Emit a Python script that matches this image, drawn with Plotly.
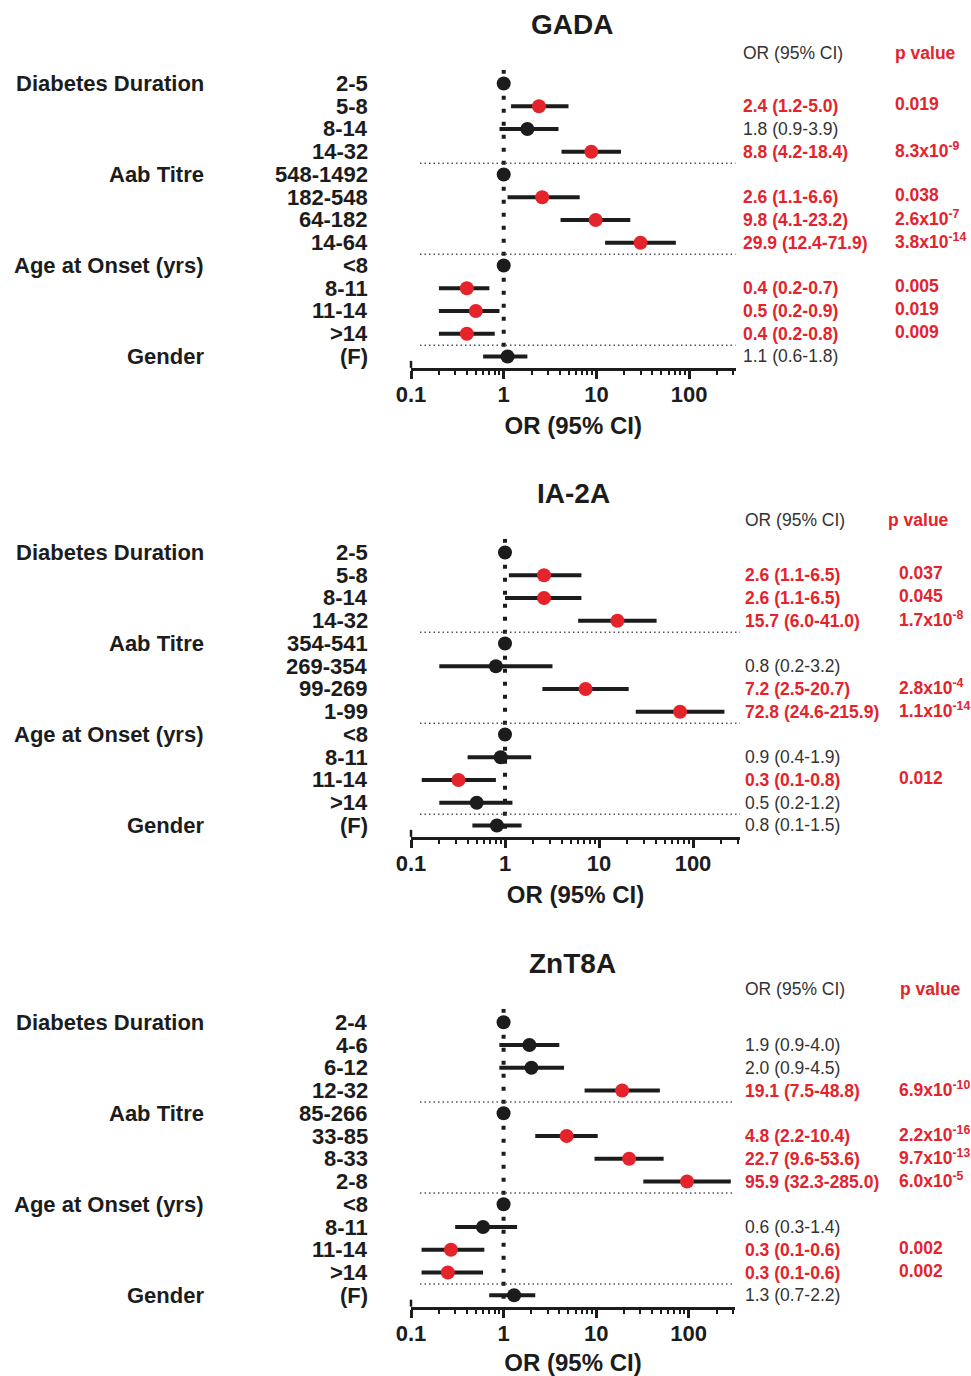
import plotly.graph_objects as go

W, H = 971, 1376
FONT = "Liberation Sans, Arial, sans-serif"
RED = "#e4232b"
BLACK = "#1c1c1c"
GREY = "#333333"

group_names = ["Diabetes Duration", "Aab Titre", "Age at Onset (yrs)", "Gender"]
group_rows = [0, 4, 8, 12]

# ---------------- GADA ----------------
gada_cats = ["2-5", "5-8", "8-14", "14-32", "548-1492", "182-548", "64-182", "14-64",
             "<8", "8-11", "11-14", ">14", "(F)"]
gada_or = [1, 2.4, 1.8, 8.8, 1, 2.6, 9.8, 29.9, 1, 0.4, 0.5, 0.4, 1.1]
gada_lo = [1, 1.2, 0.9, 4.2, 1, 1.1, 4.1, 12.4, 1, 0.2, 0.2, 0.2, 0.6]
gada_hi = [1, 5.0, 3.9, 18.4, 1, 6.6, 23.2, 71.9, 1, 0.7, 0.9, 0.8, 1.8]
gada_ci = ["", "2.4 (1.2-5.0)", "1.8 (0.9-3.9)", "8.8 (4.2-18.4)", "", "2.6 (1.1-6.6)",
           "9.8 (4.1-23.2)", "29.9 (12.4-71.9)", "", "0.4 (0.2-0.7)", "0.5 (0.2-0.9)",
           "0.4 (0.2-0.8)", "1.1 (0.6-1.8)"]
gada_p = ["", "0.019", "", "8.3x10<sup>-9</sup>", "", "0.038", "2.6x10<sup>-7</sup>",
          "3.8x10<sup>-14</sup>", "", "0.005", "0.019", "0.009", ""]

# ---------------- IA-2A ----------------
ia2a_cats = ["2-5", "5-8", "8-14", "14-32", "354-541", "269-354", "99-269", "1-99",
             "<8", "8-11", "11-14", ">14", "(F)"]
ia2a_or = [1, 2.6, 2.6, 15.7, 1, 0.8, 7.2, 72.8, 1, 0.9, 0.32, 0.5, 0.82]
ia2a_lo = [1, 1.1, 1.0, 6.0, 1, 0.2, 2.5, 24.6, 1, 0.4, 0.13, 0.2, 0.45]
ia2a_hi = [1, 6.5, 6.5, 41.0, 1, 3.2, 20.7, 215.9, 1, 1.9, 0.8, 1.2, 1.5]
ia2a_ci = ["", "2.6 (1.1-6.5)", "2.6 (1.1-6.5)", "15.7 (6.0-41.0)", "", "0.8 (0.2-3.2)",
           "7.2 (2.5-20.7)", "72.8 (24.6-215.9)", "", "0.9 (0.4-1.9)", "0.3 (0.1-0.8)",
           "0.5 (0.2-1.2)", "0.8 (0.1-1.5)"]
ia2a_p = ["", "0.037", "0.045", "1.7x10<sup>-8</sup>", "", "", "2.8x10<sup>-4</sup>",
          "1.1x10<sup>-14</sup>", "", "", "0.012", "", ""]

# ---------------- ZnT8A ----------------
znt8a_cats = ["2-4", "4-6", "6-12", "12-32", "85-266", "33-85", "8-33", "2-8",
              "<8", "8-11", "11-14", ">14", "(F)"]
znt8a_or = [1, 1.9, 2.0, 19.1, 1, 4.8, 22.7, 95.9, 1, 0.6, 0.27, 0.25, 1.3]
znt8a_lo = [1, 0.9, 0.9, 7.5, 1, 2.2, 9.6, 32.3, 1, 0.3, 0.13, 0.13, 0.7]
znt8a_hi = [1, 4.0, 4.5, 48.8, 1, 10.4, 53.6, 285.0, 1, 1.4, 0.62, 0.6, 2.2]
znt8a_ci = ["", "1.9 (0.9-4.0)", "2.0 (0.9-4.5)", "19.1 (7.5-48.8)", "", "4.8 (2.2-10.4)",
            "22.7 (9.6-53.6)", "95.9 (32.3-285.0)", "", "0.6 (0.3-1.4)", "0.3 (0.1-0.6)",
            "0.3 (0.1-0.6)", "1.3 (0.7-2.2)"]
znt8a_p = ["", "", "", "6.9x10<sup>-10</sup>", "", "2.2x10<sup>-16</sup>",
           "9.7x10<sup>-13</sup>", "6.0x10<sup>-5</sup>", "", "", "0.002", "0.002", ""]

panels = [
    dict(title="GADA", cats=gada_cats, orv=gada_or, lo=gada_lo, hi=gada_hi, ci=gada_ci, p=gada_p,
         row0=83.5, x0=411, x1=735.5, title_y=25, title_x=572, head_y=53, ci_x=741, p_x=893, pr_x=893),
    dict(title="IA-2A", cats=ia2a_cats, orv=ia2a_or, lo=ia2a_lo, hi=ia2a_hi, ci=ia2a_ci, p=ia2a_p,
         row0=552.5, x0=411, x1=740, title_y=493, title_x=573, head_y=520, ci_x=743, p_x=886, pr_x=897),
    dict(title="ZnT8A", cats=znt8a_cats, orv=znt8a_or, lo=znt8a_lo, hi=znt8a_hi, ci=znt8a_ci, p=znt8a_p,
         row0=1022.3, x0=411, x1=735, title_y=963, title_x=572, head_y=989, ci_x=743, p_x=898, pr_x=897),
]

SPACING = 22.75
Y_TOP, Y_BOT = -0.6, 12.5

fig = go.Figure()
annotations = []
shapes = []
layout_axes = {}

for i, pn in enumerate(panels):
    k = "" if i == 0 else str(i + 1)
    xa, ya = "x" + k, "y" + k
    top_px = pn["row0"] + Y_TOP * SPACING
    bot_px = pn["row0"] + Y_BOT * SPACING
    n = len(pn["cats"])
    rows = list(range(n))
    sig = [p != "" for p in pn["p"]]
    colors = [RED if s else BLACK for s in sig]

    # vertical dotted reference line at OR = 1
    fig.add_trace(go.Scatter(x=[1, 1], y=[Y_TOP, Y_BOT], mode="lines",
                             line=dict(color=BLACK, width=4, dash="4px,9px"),
                             xaxis=xa, yaxis=ya, showlegend=False, hoverinfo="skip"))
    # odds ratios with 95% CI
    plus = [h - o for h, o in zip(pn["hi"], pn["orv"])]
    minus = [o - l for o, l in zip(pn["orv"], pn["lo"])]
    fig.add_trace(go.Scatter(x=pn["orv"], y=rows, mode="markers",
                             marker=dict(size=14, color=colors, line=dict(width=0)),
                             error_x=dict(type="data", array=plus, arrayminus=minus,
                                          color=BLACK, thickness=4, width=0, symmetric=False),
                             xaxis=xa, yaxis=ya, showlegend=False))

    layout_axes["xaxis" + k] = dict(
        domain=[pn["x0"] / W, pn["x1"] / W], anchor=ya, type="log", range=[-1, 2.5],
        tickvals=[0.1, 1, 10, 100], ticktext=["0.1", "1", "10", "100"],
        ticks="outside", ticklen=8, tickwidth=2.5, tickcolor=BLACK,
        showline=True, linewidth=3, linecolor=BLACK, showgrid=False, zeroline=False,
        automargin=False, ticklabelstandoff=-3,
        tickfont=dict(family=FONT, size=22, color=BLACK, weight="bold"),
        minor=dict(ticks="outside", ticklen=4, tickwidth=2, tickcolor=BLACK, dtick="D1", showgrid=False),
        title=dict(text="OR (95% CI)", font=dict(family=FONT, size=24, color=BLACK, weight="bold"),
                   standoff=11),
    )
    layout_axes["yaxis" + k] = dict(
        domain=[1 - bot_px / H, 1 - top_px / H], anchor=xa, range=[Y_BOT, Y_TOP],
        visible=False, showgrid=False, zeroline=False, automargin=False,
    )

    # group separators
    for ysep in [3.5, 7.5, 11.5]:
        shapes.append(dict(type="line", xref="paper", yref=ya, x0=420 / W, x1=pn["x1"] / W,
                           y0=ysep, y1=ysep, line=dict(color="#555555", width=1.5, dash="1.5px,3px")))
    # left axis end cap
    shapes.append(dict(type="line", xref="paper", yref="paper", x0=pn["x0"] / W, x1=pn["x0"] / W,
                       y0=1 - bot_px / H, y1=1 - (bot_px - 7) / H, line=dict(color=BLACK, width=2.5)))

    annotations.append(dict(text="<b>%s</b>" % pn["title"], xref="paper", yref="paper",
                            x=pn["title_x"] / W, y=1 - pn["title_y"] / H, xanchor="center", yanchor="middle",
                            showarrow=False, font=dict(family=FONT, size=28, color=BLACK)))
    annotations.append(dict(text="OR (95% CI)", xref="paper", yref="paper",
                            x=pn["ci_x"] / W, y=1 - pn["head_y"] / H, xanchor="left", yanchor="middle",
                            showarrow=False, font=dict(family=FONT, size=17.5, color=GREY)))
    annotations.append(dict(text="<b>p value</b>", xref="paper", yref="paper",
                            x=pn["p_x"] / W, y=1 - pn["head_y"] / H, xanchor="left", yanchor="middle",
                            showarrow=False, font=dict(family=FONT, size=17.5, color=RED)))
    for g, r in zip(group_names, group_rows):
        annotations.append(dict(text="<b>%s</b>" % g, xref="paper", yref=ya, x=206 / W, y=r,
                                xanchor="right", yanchor="middle", showarrow=False,
                                font=dict(family=FONT, size=22, color=BLACK)))
    for r, (c, ci, p, s) in enumerate(zip(pn["cats"], pn["ci"], pn["p"], sig)):
        annotations.append(dict(text="<b>%s</b>" % c, xref="paper", yref=ya, x=370 / W, y=r,
                                xanchor="right", yanchor="middle", showarrow=False,
                                font=dict(family=FONT, size=22, color=BLACK)))
        if ci:
            annotations.append(dict(text=("<b>%s</b>" % ci) if s else ci, xref="paper", yref=ya,
                                    x=pn["ci_x"] / W, y=r, xanchor="left", yanchor="middle",
                                    showarrow=False,
                                    font=dict(family=FONT, size=17.5, color=RED if s else GREY)))
        if p:
            annotations.append(dict(text="<b>%s</b>" % p, xref="paper", yref=ya,
                                    x=pn["pr_x"] / W, y=r - 0.08, xanchor="left", yanchor="middle",
                                    showarrow=False, font=dict(family=FONT, size=17.5, color=RED)))

fig.update_layout(
    width=W, height=H, margin=dict(l=0, r=0, t=0, b=0, autoexpand=False),
    paper_bgcolor="white", plot_bgcolor="white",
    annotations=annotations, shapes=shapes, showlegend=False,
    font=dict(family=FONT, color=BLACK),
    **layout_axes,
)

fig.write_html("out.html")
